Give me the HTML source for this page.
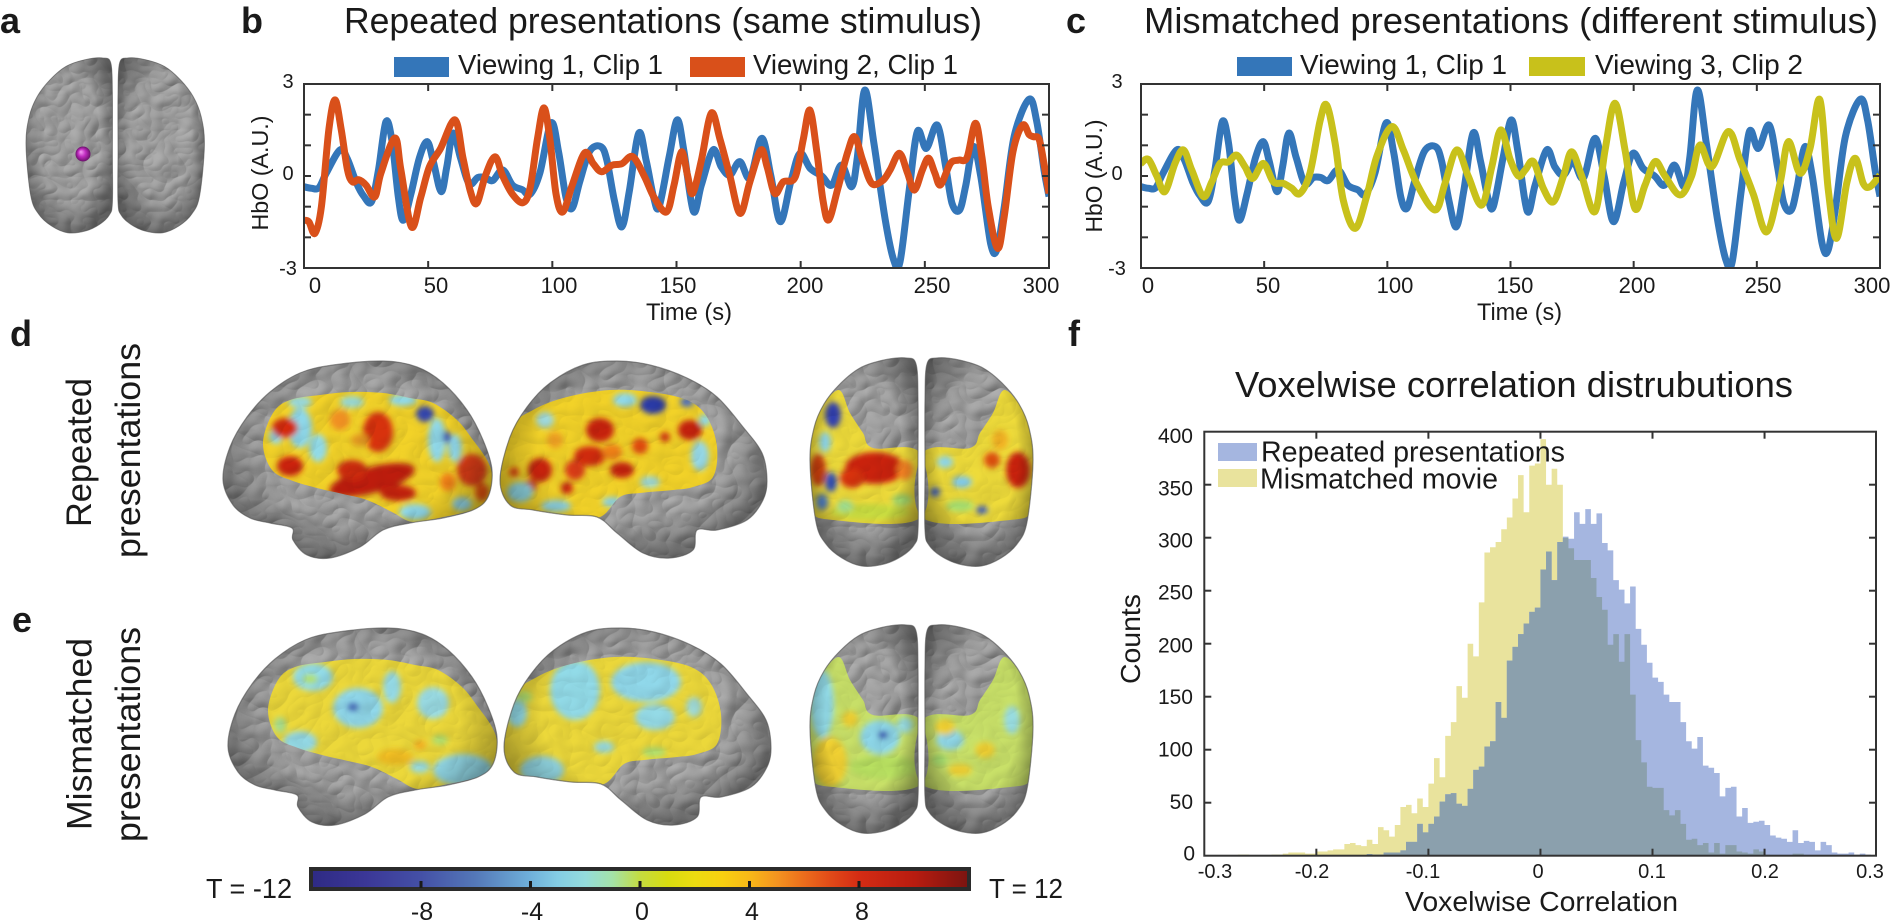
<!DOCTYPE html>
<html><head><meta charset="utf-8">
<style>
html,body{margin:0;padding:0;background:#fff;}
svg{display:block;}
text{font-family:"Liberation Sans",Arial,sans-serif;fill:#1a1a1a;}
.bd{font-weight:bold;}
</style></head><body>
<svg id="s" xmlns="http://www.w3.org/2000/svg" width="1892" height="922" viewBox="0 0 1892 922">
<defs id="defs">
 <filter id="gyri" x="0" y="0" width="1" height="1" color-interpolation-filters="sRGB">
  <feTurbulence type="turbulence" baseFrequency="0.03 0.036" numOctaves="2" seed="4" result="t"/>
  <feDiffuseLighting in="t" surfaceScale="3" diffuseConstant="1" lighting-color="#ffffff" result="l">
   <feDistantLight azimuth="225" elevation="50"/>
  </feDiffuseLighting>
  <feColorMatrix in="l" type="matrix" values="0.42 0 0 0 0.28  0.42 0 0 0 0.28  0.42 0 0 0 0.28  0 0 0 0 1"/>
 </filter>
 <filter id="gyri2" x="0" y="0" width="1" height="1" color-interpolation-filters="sRGB">
  <feTurbulence type="turbulence" baseFrequency="0.03 0.036" numOctaves="2" seed="4" result="t"/>
  <feDiffuseLighting in="t" surfaceScale="3" diffuseConstant="1" lighting-color="#ffffff" result="l">
   <feDistantLight azimuth="225" elevation="50"/>
  </feDiffuseLighting>
  <feColorMatrix in="l" type="matrix" values="0.2 0 0 0 0.82  0.2 0 0 0 0.82  0.2 0 0 0 0.82  0 0 0 0 1"/>
 </filter>
 <filter id="blur" x="-20%" y="-20%" width="140%" height="140%"><feGaussianBlur stdDeviation="3"/></filter>
 <radialGradient id="edge" cx="0.5" cy="0.45" r="0.6">
  <stop offset="0.6" stop-color="#000" stop-opacity="0"/>
  <stop offset="1" stop-color="#000" stop-opacity="0.4"/>
 </radialGradient>
 <radialGradient id="ball" cx="0.5" cy="0.5" r="0.5" fx="0.35" fy="0.35">
  <stop offset="0" stop-color="#f6a0f6"/>
  <stop offset="0.5" stop-color="#c02cc0"/>
  <stop offset="1" stop-color="#6a106a"/>
 </radialGradient>
 <linearGradient id="cbar" x1="0" y1="0" x2="1" y2="0">
  <stop offset="0" stop-color="#2e2a84"/>
  <stop offset="0.083" stop-color="#3b3797"/>
  <stop offset="0.167" stop-color="#4450a6"/>
  <stop offset="0.25" stop-color="#5478b8"/>
  <stop offset="0.333" stop-color="#6fb0da"/>
  <stop offset="0.375" stop-color="#84cde4"/>
  <stop offset="0.417" stop-color="#94dcdc"/>
  <stop offset="0.458" stop-color="#a4e2a8"/>
  <stop offset="0.5" stop-color="#c4dc40"/>
  <stop offset="0.542" stop-color="#d8dc10"/>
  <stop offset="0.583" stop-color="#ecdc10"/>
  <stop offset="0.625" stop-color="#f8d010"/>
  <stop offset="0.667" stop-color="#f8b818"/>
  <stop offset="0.708" stop-color="#f49420"/>
  <stop offset="0.75" stop-color="#ec6c1c"/>
  <stop offset="0.792" stop-color="#e04818"/>
  <stop offset="0.833" stop-color="#d42c14"/>
  <stop offset="0.917" stop-color="#b81c10"/>
  <stop offset="1" stop-color="#7a1410"/>
 </linearGradient>
 <clipPath id="clipB"><rect x="304" y="84" width="745" height="184"/></clipPath>
 <clipPath id="clipC"><rect x="1141" y="84" width="739" height="184"/></clipPath>
 <clipPath id="clipH"><rect x="1204.3" y="431.7" width="672" height="424"/></clipPath>
</defs>

<g id="brains"></g>
<g id="plots"></g>

<!-- axes frames -->
<rect x="304" y="84" width="745" height="184" fill="none" stroke="#333" stroke-width="2"/>
<rect x="1141" y="84" width="739" height="184" fill="none" stroke="#333" stroke-width="2"/>
<rect x="1204.3" y="431.7" width="671.7" height="424" fill="none" stroke="#333" stroke-width="2"/>
<g id="ticks" stroke="#333" stroke-width="2"></g>

<!-- panel labels -->
<text class="bd" x="0" y="33" font-size="36">a</text>
<text class="bd" x="241" y="33" font-size="36">b</text>
<text class="bd" x="1066" y="33" font-size="36">c</text>
<text class="bd" x="10" y="346" font-size="36">d</text>
<text class="bd" x="12" y="632" font-size="36">e</text>
<text class="bd" x="1068" y="346" font-size="36">f</text>

<!-- titles -->
<text x="344" y="33" font-size="36" textLength="638" lengthAdjust="spacingAndGlyphs">Repeated presentations (same stimulus)</text>
<text x="1144" y="33" font-size="36" textLength="734" lengthAdjust="spacingAndGlyphs">Mismatched presentations (different stimulus)</text>

<!-- legends b/c -->
<rect x="394" y="57" width="55" height="20" fill="#3476b9"/>
<text x="458" y="74" font-size="28" textLength="205" lengthAdjust="spacingAndGlyphs">Viewing 1, Clip 1</text>
<rect x="690" y="57" width="55" height="20" fill="#d9501a"/>
<text x="753" y="74" font-size="28" textLength="205" lengthAdjust="spacingAndGlyphs">Viewing 2, Clip 1</text>
<rect x="1237" y="57" width="55" height="19" fill="#3476b9"/>
<text x="1300" y="74" font-size="28" textLength="207" lengthAdjust="spacingAndGlyphs">Viewing 1, Clip 1</text>
<rect x="1529" y="57" width="56" height="19" fill="#c8c11b"/>
<text x="1595" y="74" font-size="28" textLength="208" lengthAdjust="spacingAndGlyphs">Viewing 3, Clip 2</text>

<!-- y tick labels b/c -->
<g font-size="20" text-anchor="middle">
 <text x="288" y="88">3</text><text x="288" y="180">0</text><text x="288" y="275">-3</text>
 <text x="1117" y="88">3</text><text x="1117" y="180">0</text><text x="1117" y="275">-3</text>
</g>
<!-- x tick labels b/c -->
<g font-size="22" text-anchor="middle">
 <text x="315" y="293">0</text><text x="436" y="293">50</text><text x="559" y="293">100</text><text x="678" y="293">150</text><text x="805" y="293">200</text><text x="932" y="293">250</text><text x="1041" y="293">300</text>
 <text x="1148" y="293">0</text><text x="1268" y="293">50</text><text x="1395" y="293">100</text><text x="1515" y="293">150</text><text x="1637" y="293">200</text><text x="1763" y="293">250</text><text x="1872" y="293">300</text>
</g>
<text x="646" y="320" font-size="24" textLength="86" lengthAdjust="spacingAndGlyphs">Time (s)</text>
<text x="1477" y="320" font-size="24" textLength="85" lengthAdjust="spacingAndGlyphs">Time (s)</text>
<text transform="translate(268,173) rotate(-90)" font-size="23" text-anchor="middle" textLength="115" lengthAdjust="spacingAndGlyphs">HbO (A.U.)</text>
<text transform="translate(1102,176) rotate(-90)" font-size="23" text-anchor="middle" textLength="113" lengthAdjust="spacingAndGlyphs">HbO (A.U.)</text>

<!-- histogram text -->
<text x="1235" y="397" font-size="36" textLength="558" lengthAdjust="spacingAndGlyphs">Voxelwise correlation distrubutions</text>
<rect x="1218" y="443" width="39" height="18" fill="#a5b6e0"/>
<rect x="1218" y="469" width="39" height="18" fill="#e9e39d"/>
<text x="1261" y="461.5" font-size="29" textLength="304" lengthAdjust="spacingAndGlyphs">Repeated presentations</text>
<text x="1260" y="488.5" font-size="29" textLength="238" lengthAdjust="spacingAndGlyphs">Mismatched movie</text>
<g font-size="21" text-anchor="end">
 <text x="1193" y="443">400</text><text x="1193" y="495.6">350</text><text x="1193" y="547.3">300</text><text x="1193" y="599.6">250</text><text x="1193" y="652.3">200</text><text x="1193" y="704">150</text><text x="1193" y="756.6">100</text><text x="1193" y="809">50</text><text x="1195" y="860.6">0</text>
</g>
<g font-size="20" text-anchor="middle">
 <text x="1215" y="878">-0.3</text><text x="1312" y="878">-0.2</text><text x="1423" y="878">-0.1</text><text x="1538" y="878">0</text><text x="1652" y="878">0.1</text><text x="1765" y="878">0.2</text><text x="1870" y="878">0.3</text>
</g>
<text x="1405" y="911" font-size="28" textLength="273" lengthAdjust="spacingAndGlyphs">Voxelwise Correlation</text>
<text transform="translate(1140,639) rotate(-90)" font-size="28" text-anchor="middle" textLength="90" lengthAdjust="spacingAndGlyphs">Counts</text>

<!-- row labels -->
<g font-size="35" text-anchor="middle">
 <text transform="translate(91,452.5) rotate(-90)" textLength="149" lengthAdjust="spacingAndGlyphs">Repeated</text>
 <text transform="translate(140,450.5) rotate(-90)" textLength="215" lengthAdjust="spacingAndGlyphs">presentations</text>
 <text transform="translate(91.5,734) rotate(-90)" textLength="192" lengthAdjust="spacingAndGlyphs">Mismatched</text>
 <text transform="translate(140,734.5) rotate(-90)" textLength="215" lengthAdjust="spacingAndGlyphs">presentations</text>
</g>

<!-- colorbar -->
<rect x="311" y="869" width="658" height="20" fill="url(#cbar)" stroke="#2b2b2b" stroke-width="4"/>
<g fill="#1a1a1a">
 <rect x="419.5" y="881" width="3" height="7"/><rect x="529" y="881" width="3" height="7"/><rect x="638.5" y="881" width="3" height="7"/><rect x="748" y="881" width="3" height="7"/><rect x="857.5" y="881" width="3" height="7"/>
</g>
<text x="206" y="898" font-size="28" textLength="86" lengthAdjust="spacingAndGlyphs">T = -12</text>
<text x="989" y="898" font-size="28" textLength="74" lengthAdjust="spacingAndGlyphs">T = 12</text>
<g font-size="25" text-anchor="middle">
 <text x="422" y="920">-8</text><text x="532" y="920">-4</text><text x="642" y="920">0</text><text x="752" y="920">4</text><text x="862" y="920">8</text>
</g>
</svg>
<script>
(function(){
const NS='http://www.w3.org/2000/svg';
const defs=document.getElementById('defs');
const plots=document.getElementById('plots');
const ticks=document.getElementById('ticks');
const brainsG=document.getElementById('brains');
function P(tag,a,parent){const e=document.createElementNS(NS,tag);for(const k in a){if(a[k]!==undefined&&a[k]!=='')e.setAttribute(k,a[k]);}parent.appendChild(e);return e;}
function cr(pts,closed){
  const n=pts.length;
  const get=i=>closed?pts[(i+n)%n]:pts[Math.max(0,Math.min(n-1,i))];
  let d='M'+pts[0][0].toFixed(1)+','+pts[0][1].toFixed(1);
  const m=closed?n:n-1;
  for(let i=0;i<m;i++){
    const p0=get(i-1),p1=get(i),p2=get(i+1),p3=get(i+2);
    const c1=[p1[0]+(p2[0]-p0[0])/6,p1[1]+(p2[1]-p0[1])/6];
    const c2=[p2[0]-(p3[0]-p1[0])/6,p2[1]-(p3[1]-p1[1])/6];
    d+='C'+c1[0].toFixed(1)+','+c1[1].toFixed(1)+' '+c2[0].toFixed(1)+','+c2[1].toFixed(1)+' '+p2[0].toFixed(1)+','+p2[1].toFixed(1);
  }
  if(closed)d+='Z';
  return d;
}
/* ---------- time series ---------- */
const Yv=v=>176-v*30.67;
const Xb=t=>304+t*745/300, Xc=t=>1141+t*739/300;
const blue=[[0,-0.35],[3,-0.4],[6,-0.38],[9,0.1],[14.5,0.85],[17.5,0.55],[21,-0.2],[24,-0.65],[27.2,-0.84],[30,0.2],[33,1.77],[35.5,1.1],[38,-0.7],[40,-1.44],[43,-0.6],[46.5,0.6],[49.6,1.12],[52,0.5],[55.2,-0.51],[57.5,0.3],[60,1.4],[63,0.6],[66.5,-0.25],[70,-0.05],[73,-0.05],[76,-0.15],[80,0.2],[84,-0.3],[88,-0.45],[91,-0.6],[95,0.1],[99.5,1.73],[102.5,0.8],[105.5,-0.7],[108,-1.05],[111,-0.2],[115,0.8],[119.5,0.96],[122,0.5],[125,-0.8],[128,-1.66],[131,-0.5],[134.8,1.4],[137.8,0.5],[140.8,-0.7],[143,-1.0],[147,0.6],[150.3,1.83],[153,0.8],[156.8,-1.15],[160,-0.3],[164.7,0.85],[168,0.3],[171.5,0.03],[175.5,0.47],[179.6,-0.07],[184.3,1.23],[188,0],[191.8,-1.49],[196,-0.2],[199.7,0.74],[203.8,0.25],[208.5,0],[212.5,-0.3],[216.5,0.36],[220.5,-0.35],[222.8,0.6],[225.8,2.8],[229.5,1.07],[234,-1.4],[237.5,-2.75],[240,-2.8],[243.7,-0.46],[247,1.45],[250.6,0.9],[255,1.66],[258.4,0.3],[261,-0.9],[264,-1.11],[266.5,-0.3],[269.5,0.96],[272.5,0],[276.5,-2.2],[279,-2.4],[282,-1.0],[286,1.3],[292,2.5],[295,1.8],[298,0.2],[300,-0.67]];
const orange=[[0,-1.44],[2,-1.5],[4.4,-1.87],[7,-1.0],[10,1.5],[12.5,2.48],[15,1.5],[17.5,0.2],[19.5,-0.19],[22,-0.12],[25,-0.3],[28.5,-0.68],[31,0.1],[36.6,1.24],[39,0.2],[43.3,-1.66],[47,-0.7],[50.5,0.3],[55,0.9],[60.8,1.83],[64,0.6],[67,-0.5],[69.6,-0.89],[73,0],[76.9,0.63],[80,0],[84,-0.6],[88.2,-0.87],[91,-0.4],[94,1.2],[96.6,2.22],[99,1.2],[101.5,-0.6],[104.2,-1.17],[108,-0.3],[113,0.75],[116.5,0.4],[119.8,0.14],[124,0.35],[128,0.4],[132.4,0.63],[137,0],[141,-0.7],[146,-1.17],[149,-0.3],[152,0.79],[154.5,0],[156.5,-0.57],[160,0.5],[164,2.05],[167.5,1.2],[171.5,0],[175.6,-1.22],[179.5,-0.2],[184,0.85],[186.5,0.3],[189.6,-0.57],[193,-0.19],[197.7,-0.05],[201,1.17],[203.7,2.15],[206.5,0.8],[209,-0.8],[211.3,-1.43],[215,-0.4],[219,0.8],[221.8,1.28],[225,0.5],[228.6,-0.24],[233,-0.15],[236,0.2],[239.8,0.74],[243,0.1],[245.8,-0.46],[249,0.2],[251.5,0.58],[254,0.1],[256.3,-0.29],[260.3,0.41],[263.7,0.52],[267,0.6],[270.4,1.72],[273,0.6],[275.5,-1.0],[279.3,-2.36],[282,-1.3],[285.5,0.8],[289.4,1.66],[292,1.35],[293.7,1.28],[296,1.2],[298,0.4],[300,-0.57]];
const yellow=[[0,0.41],[3,0.54],[6.4,0],[9.7,-0.51],[13.8,0.41],[17.2,0.85],[20.6,0.2],[25.3,-0.67],[28.7,-0.2],[32.1,0.41],[35.5,0.46],[38.8,0.68],[42.2,0.3],[45.3,-0.08],[49.7,0.41],[53.7,-0.19],[57.8,-0.24],[61.2,-0.4],[64.5,-0.57],[68.6,0.1],[72.7,1.8],[75.4,2.31],[78.8,1.07],[82.1,-0.78],[86.9,-1.71],[91.6,-0.67],[95.7,0.63],[101.8,1.61],[106.5,0.85],[111.9,-0.24],[119.4,-1.11],[123.4,-0.24],[128.2,0.85],[132.9,-0.02],[138.3,-0.95],[142.4,0.3],[146,1.5],[149.8,0.55],[153.2,0],[156,0.2],[159.3,0.47],[163.3,-0.4],[167.4,-0.84],[171.5,0],[174.8,0.79],[178.9,0],[184.3,-1.16],[188.4,0.85],[192.4,2.37],[196.5,0.85],[200.5,-1.06],[204.6,-0.3],[208.7,0.47],[212.7,0],[218.8,-0.62],[223.5,0],[226.9,1.01],[231.7,0.3],[238.4,1.45],[243.2,0.52],[248.6,-0.6],[254,-1.82],[259.4,-0.24],[262.8,1.12],[267.5,0.09],[271.6,0.9],[275.6,2.48],[279,-0.46],[282.4,-2.03],[286.5,-0.24],[289.9,0.58],[293.2,-0.24],[295.9,-0.35],[300,0.03]];
function line(data,X,color,clip){
  P('path',{d:cr(data.map(p=>[X(p[0]),Yv(p[1])]),false),fill:'none',stroke:color,'stroke-width':7,'stroke-linejoin':'round','clip-path':'url(#'+clip+')'},plots);
}
line(blue,Xb,'#3476b9','clipB');
line(orange,Xb,'#d9501a','clipB');
line(blue,Xc,'#3476b9','clipC');
line(yellow,Xc,'#c8c11b','clipC');

function tk(x1,y1,x2,y2){P('line',{x1:x1,y1:y1,x2:x2,y2:y2},ticks);}
[[Xb,304,1049],[Xc,1141,1880]].forEach(([X,L,R])=>{
  for(let t=50;t<300;t+=50){const x=X(t);tk(x,268,x,261);tk(x,84,x,91);}
  for(let v=-2;v<=2;v++){const y=Yv(v);tk(L,y,L+7,y);tk(R,y,R-7,y);}
});
/* ---------- histogram ---------- */
const HX=r=>1204.3+(r+0.3)*1120.5, HY=c=>855.7-1.06*c;
for(let r=-0.2;r<0.25;r+=0.1){const x=HX(r);tk(x,855.7,x,848.7);tk(x,431.7,x,438.7);}
for(let c=50;c<400;c+=50){const y=HY(c);tk(1204.3,y,1211.3,y);tk(1876,y,1869,y);}
const Ymap={"-0.27":1,"-0.265":1,"-0.24":1,"-0.235":1,"-0.23":2,"-0.225":3,"-0.22":3,"-0.215":3,"-0.21":2,"-0.205":2,"-0.2":4,"-0.195":4,"-0.19":5,"-0.185":6,"-0.18":6,"-0.175":11,"-0.17":12,"-0.165":10,"-0.16":9,"-0.155":15,"-0.15":11,"-0.145":27,"-0.14":24,"-0.135":18,"-0.13":29,"-0.125":46,"-0.12":48,"-0.115":40,"-0.11":54,"-0.105":46,"-0.1":68,"-0.095":92,"-0.09":74,"-0.085":113,"-0.08":126,"-0.075":160,"-0.07":149,"-0.065":200,"-0.06":188,"-0.055":239,"-0.05":286,"-0.045":291,"-0.04":296,"-0.035":308,"-0.03":319,"-0.025":337,"-0.02":359,"-0.015":324,"-0.01":368,"-0.005":370,"0":393,"0.005":350,"0.01":365,"0.015":350,"0.02":300,"0.025":290,"0.03":279,"0.035":279,"0.04":279,"0.045":262,"0.05":244,"0.055":232,"0.06":199,"0.065":209,"0.07":183,"0.075":209,"0.08":152,"0.085":109,"0.09":88,"0.095":65,"0.1":64,"0.105":64,"0.11":43,"0.115":38,"0.12":43,"0.125":30,"0.13":15,"0.135":16,"0.14":10,"0.145":12,"0.15":3,"0.155":12,"0.16":2,"0.165":10,"0.17":10,"0.175":4,"0.18":3,"0.185":2,"0.19":6,"0.195":4,"0.2":1,"0.205":0.6,"0.21":0.6,"0.225":2,"0.23":2};
const Bmap={"-0.2":0.5,"-0.195":0.5,"-0.19":0.5,"-0.185":0.5,"-0.18":0.5,"-0.175":0.5,"-0.17":0.5,"-0.165":0.5,"-0.16":0.5,"-0.155":1.6,"-0.15":1,"-0.145":1,"-0.14":3,"-0.135":3,"-0.13":3,"-0.125":5,"-0.12":13,"-0.115":13,"-0.11":30,"-0.105":22,"-0.1":30,"-0.095":37,"-0.09":51,"-0.085":58,"-0.08":59,"-0.075":49,"-0.07":47,"-0.065":63,"-0.06":81,"-0.055":84,"-0.05":103,"-0.045":108,"-0.04":145,"-0.035":130,"-0.03":184,"-0.025":197,"-0.02":209,"-0.015":219,"-0.01":230,"-0.005":234,"0":270,"0.005":287,"0.01":260,"0.015":296,"0.02":301,"0.025":299,"0.03":324,"0.035":313,"0.04":327,"0.045":313,"0.05":323,"0.055":295,"0.06":288,"0.065":260,"0.07":251,"0.075":238,"0.08":254,"0.085":214,"0.09":199,"0.095":182,"0.1":168,"0.105":164,"0.11":152,"0.115":145,"0.12":145,"0.125":126,"0.13":108,"0.135":101,"0.14":112,"0.145":85,"0.15":83,"0.155":78,"0.16":56,"0.165":64,"0.17":65,"0.175":37,"0.18":45,"0.185":31,"0.19":32,"0.195":33,"0.2":29,"0.205":19,"0.21":17,"0.215":16,"0.22":13,"0.225":24,"0.23":12,"0.235":14,"0.24":13,"0.245":5,"0.25":13,"0.255":10,"0.26":3,"0.265":2,"0.27":2,"0.275":3,"0.28":1,"0.285":2,"0.29":1,"0.295":0.6};
function arr(m){const a=new Array(120).fill(0);for(const k in m){const i=Math.round((parseFloat(k)+0.3)/0.005);if(i>=0&&i<120)a[i]=m[k];}return a;}
const YA=arr(Ymap),BA=arr(Bmap),OA=YA.map((v,i)=>Math.min(v,BA[i]));
function step(a){let d='M'+HX(-0.3).toFixed(2)+','+HY(0).toFixed(2);for(let i=0;i<120;i++){const x0=HX(-0.3+i*0.005),x1=HX(-0.3+(i+1)*0.005),y=HY(a[i]);d+='L'+x0.toFixed(2)+','+y.toFixed(2)+'L'+x1.toFixed(2)+','+y.toFixed(2);}d+='L'+HX(0.3).toFixed(2)+','+HY(0).toFixed(2)+'Z';return d;}
const hg=P('g',{'clip-path':'url(#clipH)'},plots);
P('path',{d:step(YA),fill:'#e9e39d'},hg);
P('path',{d:step(BA),fill:'#a5b6e0'},hg);
P('path',{d:step(OA),fill:'#8ba0ad'},hg);

/* ---------- brains ---------- */
let cid=0;
function brain(parent,outlines,colorRegions,base,blobs){
  const id='bo'+(cid++);
  const cp=P('clipPath',{id:id},defs);
  const dOut=outlines.map(o=>cr(o,true)).join(' ');
  P('path',{d:dOut},cp);
  const xs=[],ys=[];outlines.forEach(o=>o.forEach(p=>{xs.push(p[0]);ys.push(p[1]);}));
  const x0=Math.min(...xs)-6,x1=Math.max(...xs)+6,y0=Math.min(...ys)-6,y1=Math.max(...ys)+6;
  const R={x:x0,y:y0,width:x1-x0,height:y1-y0};
  const g=P('g',{'clip-path':'url(#'+id+')'},parent);
  P('rect',Object.assign({fill:'#8c8c8c'},R),g);
  P('rect',Object.assign({filter:'url(#gyri)'},R),g);
  if(colorRegions){
    const id2='bc'+(cid++);
    const cp2=P('clipPath',{id:id2},defs);
    P('path',{d:colorRegions.map(o=>cr(o,true)).join(' ')},cp2);
    const g2=P('g',{'clip-path':'url(#'+id2+')'},g);
    P('rect',Object.assign({fill:base},R),g2);
    const gb=P('g',{filter:'url(#blur)'},g2);
    blobs.forEach(b=>P('ellipse',{cx:b[0],cy:b[1],rx:b[2],ry:b[3],fill:b[4],transform:b[5]?('rotate('+b[5]+' '+b[0]+' '+b[1]+')'):undefined},gb));
    P('rect',Object.assign({filter:'url(#gyri2)',style:'mix-blend-mode:multiply'},R),g2);
  }
  outlines.forEach(o=>P('path',{d:cr(o,true),fill:'url(#edge)'},g));
  P('path',{d:dOut,fill:'none',stroke:'#555','stroke-width':1.2,'stroke-opacity':0.6},parent);
}
const brainL=[[223,480],[230,447],[247,417],[270,392],[300,373],[333,365],[383,361],[417,367],[443,383],[467,410],[483,440],[492,470],[488,497],[473,510],[443,518],[410,523],[383,530],[360,547],[330,558],[307,555],[293,540],[292,528],[270,523],[250,518],[233,505]];
const colorL=[[263,443],[273,413],[290,400],[320,395],[350,392],[383,393],[410,398],[433,403],[457,420],[473,440],[487,460],[492,477],[487,500],[473,510],[443,517],[413,522],[392,512],[367,500],[343,494],[317,488],[293,481],[272,470]];
const brainR=[[500,480],[510,437],[527,407],[550,383],[583,365],[617,361],[650,365],[687,378],[717,397],[743,427],[762,453],[767,480],[763,500],[747,520],[717,530],[697,530],[693,550],[670,558],[643,553],[617,533],[597,517],[567,515],[533,510],[510,505]];
const colorR=[[500,487],[510,430],[533,410],[567,397],[610,390],[650,392],[687,400],[707,417],[717,447],[713,477],[693,487],[673,490],[640,493],[620,497],[600,517],[567,517],[533,512],[510,507]];
const postL=[[810,462],[814,428],[824,404],[840,384],[860,368],[884,360],[906,358],[916,364],[918,400],[918,470],[918,530],[914,545],[902,556],[884,564],[862,566],[842,558],[826,544],[816,522]];
const postR=postL.map(p=>[1843-p[0],p[1]]);
const colorPL=[[806,462],[816,418],[838,390],[850,413],[863,433],[873,448],[920,453],[920,518],[833,520],[810,508]];
const colorPR=colorPL.map(p=>[1843-p[0],p[1]]);

const d1b=[[300,428,12,20,'#8ed8ea'],[318,448,9,14,'#92dbe8'],[276,436,7,8,'#8fd6e8'],[403,400,14,6,'#8ed8ea'],[437,440,9,22,'#90d8e8'],[455,448,7,14,'#8dd4e6'],[415,512,16,8,'#8ed8ea'],[462,504,10,7,'#8ed0e0'],[300,402,12,6,'#9adce0'],[352,402,12,6,'#9adcd8'],[425,414,9,8,'#3446b0'],[447,437,4,6,'#4050b8'],[285,428,13,10,'#d42c10'],[290,466,13,10,'#cc2210'],[372,480,44,13,'#bd1a0a',-15],[378,432,15,20,'#d83010'],[352,470,15,10,'#cc2a10'],[472,470,15,16,'#d83a12'],[482,492,7,9,'#e05010'],[398,493,18,8,'#c82010'],[340,420,10,10,'#f09020'],[448,482,8,9,'#f08018'],[360,440,9,6,'#f0a020']];
const d2b=[[600,430,14,12,'#c82010'],[590,456,16,10,'#d02a10'],[622,470,12,8,'#c52010'],[575,470,10,10,'#d83a12'],[640,446,8,8,'#e04a10'],[540,470,12,12,'#c62010'],[530,486,7,6,'#d03010'],[514,472,5,5,'#d84010'],[567,488,6,6,'#c82010'],[690,430,12,10,'#c82010'],[665,437,5,5,'#d03010'],[653,405,13,9,'#2a3aa8'],[687,402,7,5,'#5070c0'],[625,400,12,7,'#8ed8ea'],[520,492,13,10,'#92dbe8'],[556,506,15,6,'#90d8e8'],[700,456,9,15,'#95d8e6'],[705,420,6,6,'#8ed8ea'],[545,420,9,8,'#a0dce0'],[650,482,10,6,'#a0dcd8'],[612,502,10,5,'#90d8e8'],[555,440,8,8,'#f0a020'],[612,452,10,8,'#f08018']];
const d3b=[[875,468,30,16,'#cc2210'],[852,478,12,10,'#d83010'],[818,470,8,16,'#d04010'],[833,415,8,13,'#3040b0'],[831,482,6,10,'#3050b8'],[825,442,6,10,'#8ed8ea'],[822,502,6,8,'#5080c8'],[870,512,40,8,'#c8dc40'],[902,500,10,6,'#a8e070'],[845,506,8,6,'#a0e090'],[905,470,8,10,'#f08020'],
 [945,462,8,6,'#8ed8ea'],[962,482,10,6,'#7ec8e8'],[935,492,5,5,'#4060c0'],[1018,470,12,18,'#cc2210'],[992,460,8,8,'#e05010'],[982,510,6,4,'#4060c0'],[960,506,14,6,'#a8e070'],[1000,440,8,10,'#f0b020']];
const e1b=[[308,410,20,14,'#92dbe8'],[353,441,25,20,'#90d8ea'],[348,440,6,5,'#4a70c0'],[387,420,9,16,'#94dae6'],[428,436,16,16,'#9adce4'],[458,503,30,16,'#92d8e6'],[295,475,17,11,'#94dae6'],[275,458,6,8,'#a8e090'],[305,412,8,5,'#b0e070'],[435,473,8,5,'#b0e070'],[415,478,6,5,'#f4b020'],[390,490,18,8,'#f4c020'],[415,500,10,6,'#98dce0']];
const e2b=[[571,423,25,30,'#92dbe8'],[642,415,35,20,'#90d8ea'],[651,450,20,13,'#94dae6'],[538,503,22,14,'#94dae6'],[513,446,10,14,'#92dbe8'],[690,440,8,10,'#a0dcd8'],[600,480,10,6,'#98dce0'],[650,485,12,5,'#b0e070'],[520,430,8,6,'#b0e070']];
const e3b=[[822,437,12,34,'#92dbe8'],[830,495,17,25,'#f0d030'],[880,470,20,17,'#8ed8ea'],[883,468,5,4,'#2a40b0'],[884,500,34,12,'#b8e060'],[905,458,8,8,'#98dce0'],[850,452,8,8,'#f0d030'],
 [950,473,14,10,'#90d8e8'],[985,483,10,8,'#f0d030'],[1012,453,8,14,'#98dce0'],[960,503,12,6,'#f0d030'],[940,493,8,6,'#a8e070'],[945,460,10,8,'#f0d030']];

brain(brainsG,[brainL],[colorL],'#f2d228',d1b);
brain(brainsG,[brainR],[colorR],'#f2d228',d2b);
brain(brainsG,[postL,postR],[colorPL,colorPR],'#eedb3a',d3b);
const ge1=P('g',{transform:'translate(5,267)'},brainsG);
brain(ge1,[brainL],[colorL],'#ecd83a',e1b);
const ge2=P('g',{transform:'translate(4,267)'},brainsG);
brain(ge2,[brainR],[colorR],'#ecd83a',e2b);
const ge3=P('g',{transform:'translate(0,267)'},brainsG);
brain(ge3,[postL,postR],[colorPL,colorPR],'#c8e068',e3b);
const ga=P('g',{transform:'translate(-622,-242.72) scale(0.8,0.84)'},brainsG);
brain(ga,[postL,postR],null,null,null);
P('circle',{cx:83,cy:154,r:7.5,fill:'url(#ball)'},brainsG);
})();
</script>
</body></html>
